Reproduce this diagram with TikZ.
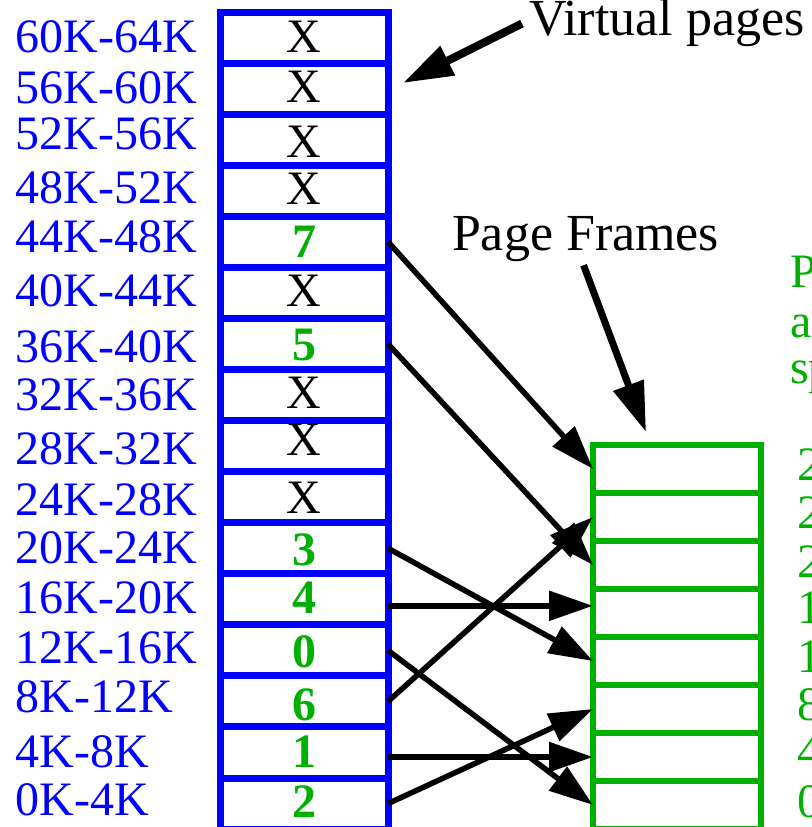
\documentclass[tikz,border=0pt]{standalone}
\usepackage{fontspec}
\setmainfont{Liberation Serif}
\usetikzlibrary{arrows.meta}
\definecolor{vblue}{RGB}{0,0,255}
\definecolor{pgreen}{RGB}{0,176,0}
\begin{document}
\begin{tikzpicture}[x=1pt,y=-1pt,
  vcell/.style={draw=vblue,line width=7pt,minimum width=168pt,minimum height=51.07pt,inner sep=0pt,outer sep=0pt},
  fcell/.style={draw=pgreen,line width=6.5pt,minimum width=168pt,minimum height=48pt,inner sep=0pt,outer sep=0pt},
  bigtext/.style={font=\fontsize{48}{52}\selectfont,inner sep=0pt,outer sep=0pt},
  vlabel/.style={bigtext,text=vblue,anchor=base west},
  xmark/.style={bigtext,text=black,anchor=base},
  fnum/.style={bigtext,text=pgreen,anchor=base,font=\fontsize{48}{52}\selectfont\bfseries},
  flabel/.style={bigtext,text=pgreen,anchor=base west},
  title/.style={font=\fontsize{52}{56}\selectfont,inner sep=0pt,outer sep=0pt,anchor=base west},
  maparrow/.style={draw=black,line width=5.5pt,-{Triangle[length=44pt,width=29pt]}},
  callout/.style={draw=black,line width=8pt,-{Triangle[length=50pt,width=31pt]}}
]
\useasboundingbox (0,0) rectangle (811,827);
\clip (0,0) rectangle (811,827);

% virtual page cells
\foreach \k in {0,...,15}
  \node[vcell] (v\k) at (304,{12+(15-\k)*51.07+25.535}) {};

% physical frames
\foreach \j in {0,...,7}
  \node[fcell] (f\j) at (677,{445+(7-\j)*48+24}) {};

% address labels of virtual pages
\foreach \k/\lab/\yb in {15/60K-64K/52,14/56K-60K/103,13/52K-56K/149,12/48K-52K/203,
  11/44K-48K/252,10/40K-44K/306,9/36K-40K/362,8/32K-36K/410,7/28K-32K/464,
  6/24K-28K/515,5/20K-24K/563,4/16K-20K/613,3/12K-16K/663,2/8K-12K/712,
  1/4K-8K/767,0/0K-4K/815}
  \node[vlabel] (l\k) at (16,\yb) {\lab};

% unmapped pages
\foreach \k/\yb in {15/52,14/102,13/157,12/204,10/306,8/408,7/455,6/513}
  \node[xmark] (c\k) at (304,\yb) {X};

% mapped pages
\foreach \k/\n/\yb in {11/7/257,9/5/360,5/3/565,4/4/613,3/0/667,2/6/720,1/1/767,0/2/817}
  \node[fnum] (c\k) at (304,\yb) {\n};

% frame address labels
\foreach \j/\lab/\yb in {7/28K/480,6/24K/528,5/20K/577,4/16K/623,3/12K/672,2/8K/720,1/4K/767,0/0K/817}
  \node[flabel] (fl\j) at (797,\yb) {\lab};

% right side caption
\node[flabel] (r1) at (790,287) {Physical};
\node[flabel] (r2) at (790,337) {address};
\node[flabel] (r3) at (790,383) {space};

% titles
\node[title] (vp) at (529,35) {Virtual pages};
\node[title] (pf) at (452,250) {Page Frames};
\coordinate (vptip) at (403,83);
\coordinate (pftip) at (646,432);
\draw[callout] ([xshift=-7pt,yshift=-1pt]vp.west) -- (vptip);
\draw[callout,line width=7pt] ([xshift=-2pt,yshift=-4pt]pf.south) -- (pftip);

% mappings
\draw[maparrow] (v11.east) -- (f7.west);
\draw[maparrow] (v9.east) -- (f5.west);
\draw[maparrow] (v5.east) -- (f3.west);
\coordinate (h4) at ([yshift=-6.5pt]v4.east);
\draw[maparrow] (h4) -- (h4 -| f4.west);
\draw[maparrow] (v3.east) -- (f0.west);
\draw[maparrow] (v2.east) -- (f6.west);
\draw[maparrow] (f1.west -| v1.east) -- (f1.west);
\draw[maparrow] (v0.east) -- (f2.west);
\end{tikzpicture}
\end{document}
